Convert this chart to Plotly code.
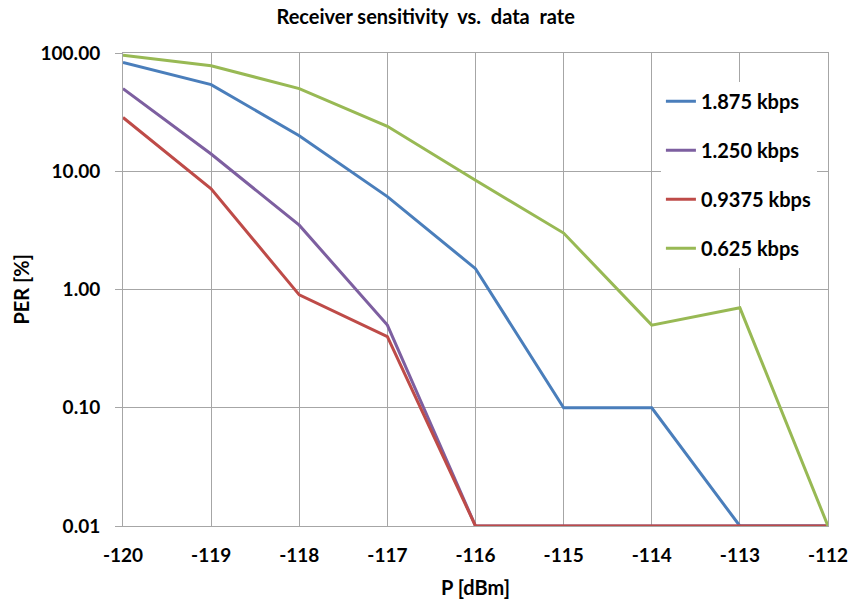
import plotly.graph_objects as go

x_dbm = [-120, -119, -118, -117, -116, -115, -114, -113, -112]
x_ticktext = ["-120", "-119", "-118", "-117", "-116", "-115", "-114", "-113", "-112"]
series_names = ["1.875 kbps", "1.250 kbps", "0.9375 kbps", "0.625 kbps"]
per_1875 = [83, 54, 20, 6.1, 1.5, 0.1, 0.1, 0.01, 0.01]
per_1250 = [50, 14, 3.5, 0.5, 0.01, 0.01, 0.01, 0.01, 0.01]
per_09375 = [28.5, 7.1, 0.9, 0.4, 0.01, 0.01, 0.01, 0.01, 0.01]
per_0625 = [95.5, 78, 50, 24, 8.4, 3.0, 0.5, 0.7, 0.01]
colors = ["#4a7ebb", "#7d5fa0", "#be4b48", "#98b954"]
y_tickvals = [0.01, 0.1, 1, 10, 100]
y_ticktext = ["0.01", "0.10", "1.00", "10.00", "100.00"]

FONT = "Lato, 'Open Sans', sans-serif"
GRID = "#a6a6a6"

fig = go.Figure()
for i, (name, ys) in enumerate(zip(series_names, [per_1875, per_1250, per_09375, per_0625])):
    fig.add_trace(go.Scatter(
        x=x_dbm, y=ys, name=f"<b>{name}</b>", mode="lines",
        line=dict(color=colors[i], width=3),
        legendgroup=f"g{i}", cliponaxis=False,
    ))

fig.update_layout(
    width=853, height=599,
    paper_bgcolor="white", plot_bgcolor="white",
    margin=dict(l=123, r=25, t=53, b=73),
    font=dict(family=FONT, color="black"),
    title=dict(text="<b>Receiver sensitivity  vs.  data  rate</b>", x=0.499, xanchor="center",
               y=0.9716, yanchor="middle", font=dict(size=20, family=FONT)),
    showlegend=True,
    legend=dict(x=0.763, xanchor="left", y=0.939, yanchor="top",
                bgcolor="white", borderwidth=0,
                font=dict(size=20, family=FONT),
                tracegroupgap=20, itemwidth=30),
    annotations=[dict(text="<b>PER [%]</b>", textangle=-90, xref="paper", yref="paper",
                      x=-0.146, y=0.5, xanchor="center", yanchor="middle", showarrow=False,
                      font=dict(size=20, family=FONT))],
)
fig.update_xaxes(
    range=[-120, -112], tickvals=x_dbm, ticktext=[f"<b>{t}</b>" for t in x_ticktext],
    showgrid=True, gridcolor=GRID, gridwidth=1,
    showline=True, linecolor=GRID, linewidth=1, mirror=True,
    ticks="", zeroline=False, automargin=False, ticklabelstandoff=12,
    tickfont=dict(size=19, family=FONT),
    title=dict(text="<b>P [dBm]</b>", font=dict(size=20, family=FONT), standoff=16),
)
fig.update_yaxes(
    type="log", range=[-2, 2], tickvals=y_tickvals, ticktext=[f"<b>{t}</b>" for t in y_ticktext],
    showgrid=True, gridcolor=GRID, gridwidth=1,
    showline=True, linecolor=GRID, linewidth=1, mirror=True,
    ticks="outside", ticklen=7, tickcolor=GRID, automargin=False, ticklabelstandoff=11,
    tickfont=dict(size=19, family=FONT),
)
fig.write_html("out.html", config={"displayModeBar": False},
               post_script="document.body.style.margin='0';")
